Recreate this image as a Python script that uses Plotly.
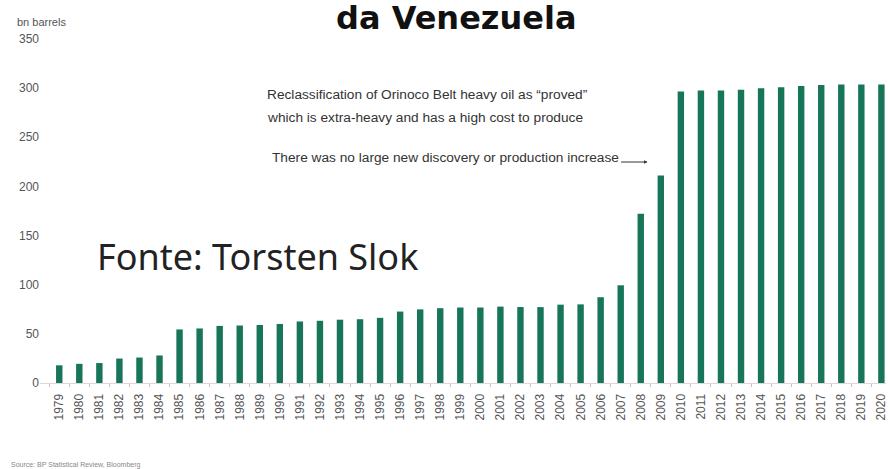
import plotly.graph_objects as go

# Venezuela proven oil reserves, billion barrels
years = [str(y) for y in range(1979, 2021)]
reserves = [
    18.0, 19.5, 20.3, 24.9, 25.9, 28.0, 54.5, 55.5, 58.1, 58.5,
    59.0, 60.1, 62.6, 63.3, 64.4, 64.9, 66.3, 72.7, 74.9, 76.1,
    76.8, 76.8, 77.7, 77.3, 77.2, 79.7, 80.0, 87.3, 99.4, 172.3,
    211.2, 296.5, 297.6, 297.7, 298.3, 300.0, 300.9, 302.3, 303.2, 303.8,
    303.8, 303.8,
]
y_ticks = [0, 50, 100, 150, 200, 250, 300, 350]

W, H = 888, 469
L, R, T, B = 40, 0, 39, 86
PW, PH = W - L - R, H - T - B


def paper(px, py):
    """Convert page pixels to paper coordinates."""
    return (px - L) / PW, (H - B - py) / PH


fig = go.Figure(
    go.Bar(
        x=years,
        y=reserves,
        marker=dict(color="#17765a", line=dict(width=0)),
        hoverinfo="x+y",
    )
)

fig.update_layout(
    width=W,
    height=H,
    margin=dict(l=L, r=R, t=T, b=B, pad=0),
    paper_bgcolor="white",
    plot_bgcolor="white",
    bargap=0.68,
    showlegend=False,
    font=dict(family="Liberation Sans, Arial, sans-serif", color="#444"),
)

fig.update_xaxes(
    type="category",
    range=[-0.96, 41.23],
    tickangle=-90,
    tickfont=dict(size=12, color="#555"),
    ticklabelstandoff=5,
    showgrid=False,
    showline=True,
    linecolor="#e4d4d8",
    linewidth=1,
    ticks="outside",
    tickson="boundaries",
    ticklen=3,
    tickcolor="#d8b8c0",
)

fig.update_yaxes(
    range=[0, 350],
    tickvals=y_ticks,
    tickfont=dict(size=12, color="#555"),
    showgrid=False,
    zeroline=False,
    showline=False,
    ticks="",
)

annotations = []


def add_text(text, px, py, size, color="#333", xanchor="left", bold=False,
             family="Liberation Sans, Arial, sans-serif"):
    x, y = paper(px, py)
    if bold:
        text = f"<b>{text}</b>"
    annotations.append(dict(
        text=text, x=x, y=y, xref="paper", yref="paper",
        xanchor=xanchor, yanchor="middle", showarrow=False,
        font=dict(size=size, color=color, family=family),
    ))


add_text("da Venezuela", 457, 18, 32, color="#111", xanchor="center", bold=True,
         family="DejaVu Sans, sans-serif")
add_text("bn barrels", 15, 22, 11, color="#555")
add_text("Reclassification of Orinoco Belt heavy oil as \u201cproved\u201d",
         266, 95, 13.7, color="#333")
add_text("which is extra-heavy and has a high cost to produce",
         266, 118, 13.7, color="#333")
add_text("There was no large new discovery or production increase",
         271, 157, 13.7, color="#333")
add_text("Fonte: Torsten Slok", 95, 256, 36, color="#222",
         family="Noto Sans, Open Sans, sans-serif")
add_text("Source: BP Statistical Review, Bloomberg", 9, 465, 7, color="#888")

# short arrow from the end of the discovery note
tip_x, tip_y = paper(649, 162)
annotations.append(dict(
    text="", x=tip_x, y=tip_y, xref="paper", yref="paper",
    showarrow=True, ax=-28, ay=0, axref="pixel", ayref="pixel",
    arrowhead=2, arrowsize=0.7, arrowwidth=1, arrowcolor="#333",
))

fig.update_layout(annotations=annotations)

fig.write_html("out.html")
